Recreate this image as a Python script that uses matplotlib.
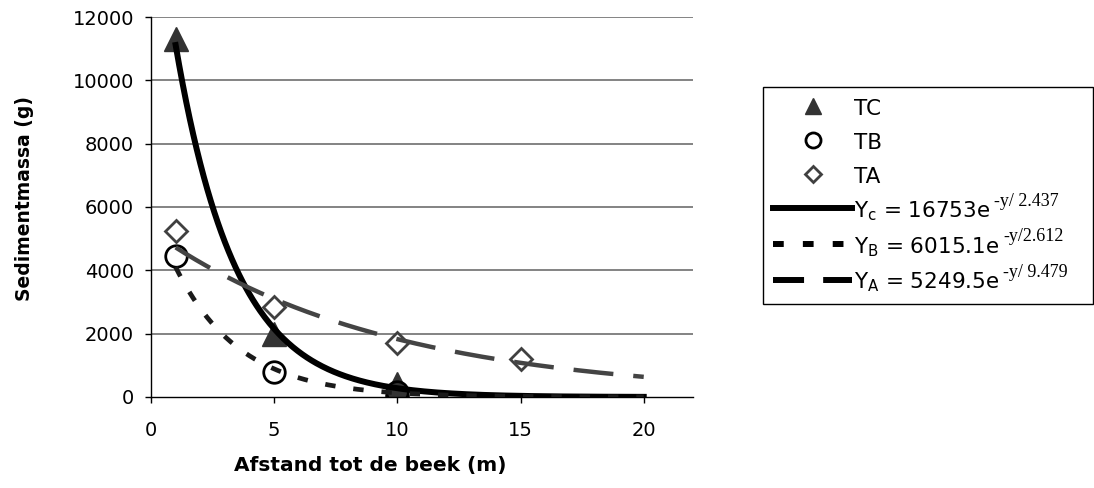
import matplotlib
matplotlib.use('Agg')
import matplotlib.pyplot as plt
import numpy as np

plt.rcParams['font.family'] = ['DejaVu Sans']
plt.rcParams['mathtext.fontset'] = 'custom'
plt.rcParams['mathtext.rm'] = 'DejaVu Sans'
plt.rcParams['mathtext.sf'] = 'DejaVu Sans'

# Measured sediment mass per transect (distance in m, mass in g)
afstand_tc = [1, 5, 10]
massa_tc = [11300, 2000, 400]
afstand_tb = [1, 5, 10]
massa_tb = [4450, 800, 150]
afstand_ta = [1, 5, 10, 15]
massa_ta = [5250, 2850, 1700, 1200]

# Exponential fits: amplitude, decay length
fit_c = (16753, 2.437)
fit_b = (6015.1, 2.612)
fit_a = (5249.5, 9.479)
fit_start, fit_end = 1, 20

fit_labels = [r'Y$_\mathsf{c}$ = 16753e', r'Y$_\mathsf{B}$ = 6015.1e', r'Y$_\mathsf{A}$ = 5249.5e']
fit_exponents = ['-y/ 2.437', '-y/2.612', '-y/ 9.479']

x_ticks = [0, 5, 10, 15, 20]
y_ticks = [0, 2000, 4000, 6000, 8000, 10000, 12000]

W, H = 1094, 488
fig = plt.figure(figsize=(W / 100, H / 100), dpi=100)
ax = fig.add_axes([151 / W, 1 - 397 / H, (693 - 151) / W, (397 - 17) / H])

ax.set_xlim(0, 22)
ax.set_ylim(0, 12000)
ax.set_xticks(x_ticks)
ax.set_yticks(y_ticks)
ax.tick_params(labelsize=14, length=4.3, width=1, direction='out', colors='black')
ax.tick_params(axis='x', pad=13)
ax.tick_params(axis='y', pad=8)

for s in ['top', 'right']:
    ax.spines[s].set_visible(False)
for s in ['left', 'bottom']:
    ax.spines[s].set_color('black')
    ax.spines[s].set_linewidth(1)

for yv in y_ticks[1:]:
    ax.axhline(yv, color='#7a7a7a', lw=1.3, zorder=0)

gray_dark = '#333333'
ax.plot(afstand_tc, massa_tc, ls='none', marker='^', ms=17, color=gray_dark,
        markeredgecolor=gray_dark, label='TC', zorder=2)
ax.plot(afstand_tb, massa_tb, ls='none', marker='o', ms=15.5, markerfacecolor='none',
        markeredgecolor='black', markeredgewidth=2, label='TB', zorder=2)
ax.plot(afstand_ta, massa_ta, ls='none', marker='D', ms=11.5, markerfacecolor='white',
        markeredgecolor='#404040', markeredgewidth=2, label='TA', zorder=2)

xf = np.linspace(fit_start, fit_end, 400)
ax.plot(xf, fit_c[0] * np.exp(-xf / fit_c[1]), color='black', lw=4.3,
        label=fit_labels[0], zorder=3)
ax.plot(xf, fit_b[0] * np.exp(-xf / fit_b[1]), color='#1a1a1a', lw=3.4,
        dashes=(2.2, 3.8), label=fit_labels[1], zorder=3)
ax.plot(xf, fit_a[0] * np.exp(-xf / fit_a[1]), color='#444444', lw=3.2,
        dashes=(9, 4.5), label=fit_labels[2], zorder=3)

leg = ax.legend(loc='upper left', mode='expand',
                bbox_to_anchor=(763 / W, 1 - 297 / H, 330 / W, 210 / H),
                bbox_transform=fig.transFigure, borderaxespad=0, fontsize=15.5,
                frameon=True, fancybox=False, edgecolor='black', framealpha=1,
                handlelength=3.7, handletextpad=0.1, borderpad=0.45,
                handleheight=1.2, labelspacing=0.55, markerscale=0.7)
leg.get_frame().set_linewidth(1)
for h in leg.legend_handles[3:]:
    h.set_color('black')
    h.set_linewidth(4.3)
leg.legend_handles[4].set_dashes((1.8, 3.2))
leg.legend_handles[5].set_dashes((5.2, 3.2))

# exponents in serif type, attached to the right of each equation
for t, expo in zip(leg.get_texts()[3:], fit_exponents):
    ax.annotate(expo, xy=(1, 0), xycoords=t, xytext=(2.5, 12.5),
                textcoords='offset points', ha='left', va='baseline',
                fontsize=13, family='Liberation Serif', annotation_clip=False,
                zorder=10)

fig.text(370 / W, 1 - 466 / H, 'Afstand tot de beek (m)', ha='center', va='center',
         fontsize=14.5, fontweight='bold')
fig.text(25 / W, 1 - 198 / H, 'Sedimentmassa (g)', ha='center', va='center',
         rotation=90, fontsize=13.5, fontweight='bold')

fig.savefig('out.png', dpi=100)
